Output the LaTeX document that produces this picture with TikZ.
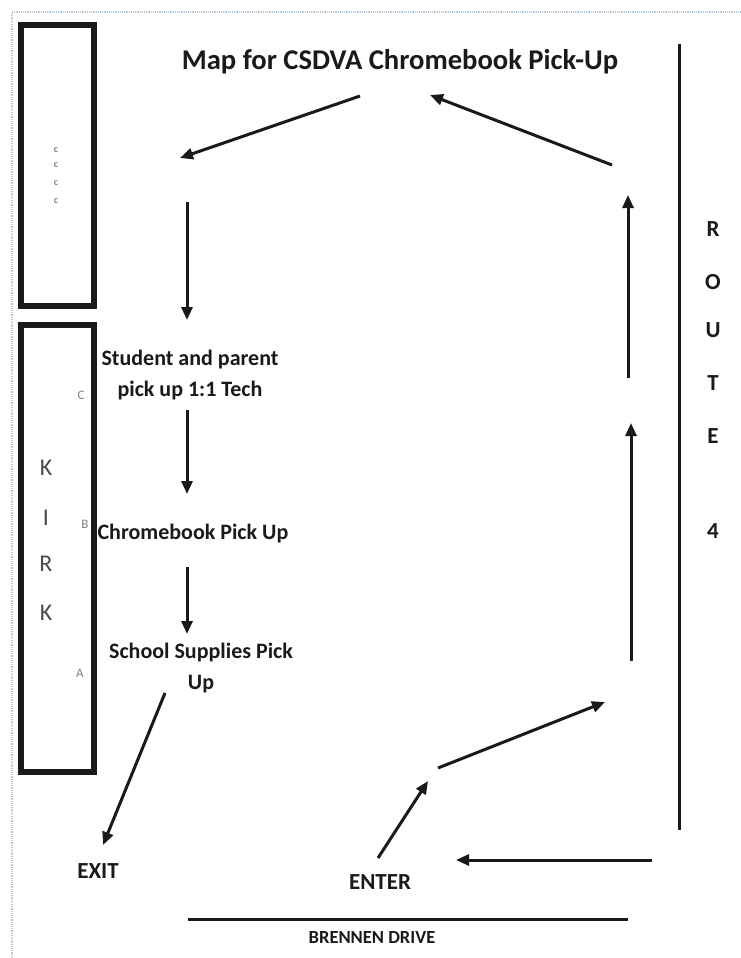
\documentclass[tikz,border=0pt]{standalone}
\usepackage{fontspec}
\setmainfont{Carlito}
\usetikzlibrary{arrows.meta}
\definecolor{ink}{HTML}{1A1A1A}
\definecolor{pageedge}{HTML}{B8C8D8}
\definecolor{faint}{HTML}{4A4A4A}
\begin{document}
\begin{tikzpicture}[x=1pt,y=-1pt,
  arr/.style={line width=3pt,draw=ink,-{Triangle[length=13pt,width=11pt]}},
  boxline/.style={line width=5.5pt,draw=ink},
  road/.style={line width=3pt,draw=ink},
  lab/.style={font=\fontsize{22}{31}\selectfont\bfseries,text=ink,align=center,inner sep=0pt},
  title/.style={font=\fontsize{28.6}{32}\selectfont\bfseries,text=ink,inner sep=0pt},
  big/.style={font=\fontsize{23}{28}\selectfont\bfseries,text=ink,inner sep=0pt},
  kirk/.style={font=\fontsize{24}{28}\selectfont,text=faint,inner sep=0pt},
  route/.style={font=\fontsize{23}{26}\selectfont\bfseries,text=ink,inner sep=0pt},
  small/.style={font=\fontsize{13}{15}\selectfont,text=gray,inner sep=0pt},
  tiny/.style={font=\fontsize{10}{11}\selectfont\bfseries,text=gray,inner sep=0pt},
  drive/.style={font=\fontsize{18.5}{21}\selectfont\bfseries,text=ink,inner sep=0pt}]
\useasboundingbox (0,0) rectangle (741,958);
\fill[white] (0,0) rectangle (741,958);
% page edge
\draw[pageedge,line width=1.2pt,densely dotted] (12,958) -- (12,12) -- (741,12);

% boxes
\node[boxline,draw,minimum width=73pt,minimum height=281pt,inner sep=0pt] (cccc) at (57.5,165.5) {};
\node[boxline,draw,minimum width=73pt,minimum height=447pt,inner sep=0pt] (kirkbox) at (57.5,548.5) {};

\node[tiny] (c1) at (56,150) {c};
\node[tiny] (c2) at (56,165) {c};
\node[tiny] (c3) at (56,183) {c};
\node[tiny] (c4) at (56,201) {c};

\node[kirk] (k1) at (46,468) {K};
\node[kirk] (k2) at (46,518) {I};
\node[kirk] (k3) at (46,564) {R};
\node[kirk] (k4) at (46,613) {K};

\node[small] (lc) at (81,395) {C};
\node[small] (lb) at (85,524) {B};
\node[small] (la) at (80,673) {A};

% title
\node[title] (title) at (400,62) {Map for CSDVA Chromebook Pick-Up};

% labels
\node[lab] (student) at (190,375) {Student and parent\\pick up 1:1 Tech};
\node[lab] (chrome) at (193,534) {Chromebook Pick Up};
\node[lab] (supplies) at (201,668) {School Supplies Pick\\Up};
\node[big] (exit) at (98,871) {EXIT};
\node[big] (enter) at (380,882) {ENTER};
\node[drive] (drive) at (372,937) {BRENNEN DRIVE};

% Route 4
\coordinate (r4top) at (679,44);
\coordinate (r4bot) at (679,830);
\draw[road] (r4top) -- (r4bot);
\node[route] (R) at (713,229) {R};
\node[route] (O) at (713,282) {O};
\node[route] (U) at (713,330) {U};
\node[route] (T) at (713,383) {T};
\node[route] (E) at (713,436) {E};
\node[route] (four) at (713,531) {4};

% Brennen drive line
\coordinate (dl) at (188,919);
\coordinate (dr) at (628,919);
\draw[road] (dl) -- (dr);

% arrow end points
\coordinate (a1s) at (360,96);  \coordinate (a1e) at (180,158);
\coordinate (a2s) at (187,202); \coordinate (a2e) at (187,320);
\coordinate (a3s) at (187,410); \coordinate (a3e) at (187,494);
\coordinate (a4s) at (187,567); \coordinate (a4e) at (187,634);
\coordinate (a5s) at (165,693); \coordinate (a5e) at (103,845);
\coordinate (a6s) at (652,860); \coordinate (a6e) at (456,860);
\coordinate (a7s) at (378,858); \coordinate (a7e) at (428,781);
\coordinate (a8s) at (438,768); \coordinate (a8e) at (605,702);
\coordinate (a9s) at (631,661); \coordinate (a9e) at (631,423);
\coordinate (a10s) at (628,378); \coordinate (a10e) at (628,195);
\coordinate (a11s) at (612,165); \coordinate (a11e) at (430,95);

\draw[arr] (a1s) -- (a1e);
\draw[arr] (a2s) -- (a2e);
\draw[arr] (a3s) -- (a3e);
\draw[arr] (a4s) -- (a4e);
\draw[arr] (a5s) -- (a5e);
\draw[arr] (a6s) -- (a6e);
\draw[arr] (a7s) -- (a7e);
\draw[arr] (a8s) -- (a8e);
\draw[arr] (a9s) -- (a9e);
\draw[arr] (a10s) -- (a10e);
\draw[arr] (a11s) -- (a11e);
\end{tikzpicture}
\end{document}
